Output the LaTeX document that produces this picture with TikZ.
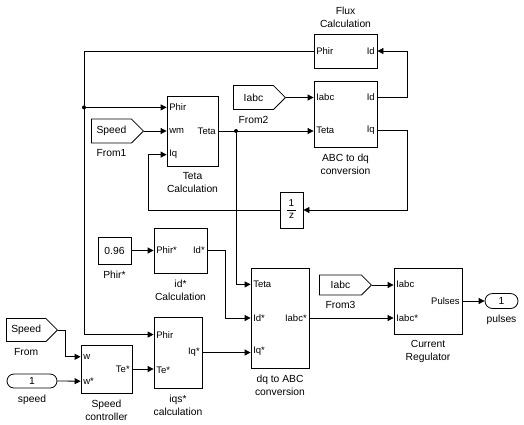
\documentclass[tikz,border=0pt]{standalone}
\usepackage{fontspec}
\setmainfont{Liberation Sans}
\usetikzlibrary{calc,shapes.symbols,shapes.misc,arrows.meta}

\tikzset{
  blk/.style={draw, line width=0.8pt, inner sep=0pt},
  lbl/.style={font=\fontsize{10.3}{13}\selectfont, align=center, inner sep=3pt, label distance=3pt},
  port/.style={font=\fontsize{9.5}{11}\selectfont, inner sep=1pt, label distance=1.5pt},
  wire/.style={line width=0.8pt},
  sig/.style={wire, -{Triangle[length=6pt,width=6pt]}},
  fromblk/.style={draw, line width=0.8pt, signal, signal to=east, inner sep=2pt,
    anchor=east, font=\fontsize{10.3}{12}\selectfont},
  ioblk/.style={draw, line width=0.8pt, rounded rectangle, inner sep=0pt,
    font=\fontsize{10.3}{12}\selectfont},
}
\newcommand{\inport}[4]{\coordinate[label={[port]0:#4}] (#3) at ($(#1.north west)!#2!(#1.south west)$);}
\newcommand{\outport}[4]{\coordinate[label={[port]180:#4}] (#3) at ($(#1.north east)!#2!(#1.south east)$);}

\begin{document}
\begin{tikzpicture}[x=1pt,y=-1pt]
            \useasboundingbox (0,0) rectangle (524,424);

            % blocks
            \node[blk, minimum width=63pt, minimum height=34pt, label={[lbl]above:{Flux\\Calculation}}] (flux) at (345.5,51) {};
            \node[blk, minimum width=51pt, minimum height=70pt, label={[lbl]below:{Teta\\Calculation}}] (teta) at (192.5,131) {};
            \node[blk, minimum width=63pt, minimum height=66pt, label={[lbl]below:{ABC to dq\\conversion}}] (abc) at (345.5,114) {};
            \node[blk, minimum width=23pt, minimum height=36pt, font=\fontsize{10}{12}\selectfont] (delay) at (291.5,210)
                {\begin{tabular}{@{\hspace{2pt}}c@{\hspace{2pt}}}1\\\hline z\end{tabular}};
            \node[blk, minimum width=33pt, minimum height=27pt, font=\fontsize{10.3}{12}\selectfont, label={[lbl]below:Phir*}] (const) at (114.5,250.5) {0.96};
            \node[blk, minimum width=53pt, minimum height=45pt, label={[lbl]below:{id*\\Calculation}}] (idc) at (180.5,250.5) {};
            \node[blk, minimum width=51pt, minimum height=48pt, label={[lbl]below:{Speed\\controller}}] (sc) at (106.5,369) {};
            \node[blk, minimum width=48pt, minimum height=71pt, label={[lbl]below:{iqs*\\calculation}}] (iqs) at (178,352.5) {};
            \node[blk, minimum width=58pt, minimum height=100pt, label={[lbl]below:{dq to ABC\\conversion}}] (dq) at (280,318) {};
            \node[blk, minimum width=68pt, minimum height=66pt, label={[lbl]below:{Current\\Regulator}}] (cr) at (428,301) {};

            % from tags and io ports
            \node[fromblk, minimum width=52pt, minimum height=24pt, label={[lbl]below:From1}] (from1) at (144,131) {Speed};
            \node[fromblk, minimum width=52pt, minimum height=24pt, label={[lbl]below:From2}] (from2) at (286,97.5) {Iabc};
            \node[fromblk, minimum width=51pt, minimum height=23pt, label={[lbl]below:From}] (from) at (58,330) {Speed};
            \node[fromblk, minimum width=52pt, minimum height=20pt, label={[lbl]below:From3}] (from3) at (372,285) {Iabc};
            \node[ioblk, minimum width=50pt, minimum height=14pt, label={[lbl]below:speed}] (speed) at (32,381) {1};
            \node[ioblk, minimum width=33pt, minimum height=15pt, label={[lbl]below:pulses}] (pulses) at (501.5,301) {1};

            % ports
            \coordinate[label={[port]0:Phir}] (flux-out) at (flux.west);
            \coordinate[label={[port]180:Id}] (flux-in) at (flux.east);
            \inport{teta}{1/6}{teta-in1}{Phir}
            \inport{teta}{1/2}{teta-in2}{wm}
            \inport{teta}{5/6}{teta-in3}{Iq}
            \outport{teta}{1/2}{teta-out}{Teta}
            \inport{abc}{1/4}{abc-in1}{Iabc}
            \inport{abc}{3/4}{abc-in2}{Teta}
            \outport{abc}{1/4}{abc-out1}{Id}
            \outport{abc}{3/4}{abc-out2}{Iq}
            \inport{idc}{1/2}{idc-in}{Phir*}
            \outport{idc}{1/2}{idc-out}{Id*}
            \inport{sc}{1/4}{sc-in1}{w}
            \inport{sc}{3/4}{sc-in2}{w*}
            \outport{sc}{1/2}{sc-out}{Te*}
            \inport{iqs}{1/4}{iqs-in1}{Phir}
            \inport{iqs}{3/4}{iqs-in2}{Te*}
            \outport{iqs}{1/2}{iqs-out}{Iq*}
            \inport{dq}{1/6}{dq-in1}{Teta}
            \inport{dq}{1/2}{dq-in2}{Id*}
            \inport{dq}{5/6}{dq-in3}{Iq*}
            \outport{dq}{1/2}{dq-out}{Iabc*}
            \inport{cr}{1/4}{cr-in1}{Iabc}
            \inport{cr}{3/4}{cr-in2}{Iabc*}
            \outport{cr}{1/2}{cr-out}{Pulses}

            % junctions
            \coordinate (jphi) at (84,0 |- teta-in1);
            \coordinate (jteta) at (236,0 |- teta-out);

            % signals
            \draw[wire] (flux-out) -| (jphi);
            \draw[sig] (jphi) -- (teta-in1);
            \draw[sig] (jphi) |- (iqs-in1);
            \draw[sig] (from1.east) -- (teta-in2);
            \draw[wire] (teta-out) -- (jteta);
            \draw[sig] (jteta) -- (jteta -| abc.west);
            \draw[sig] (jteta) |- (dq-in1);
            \draw[sig] (from2.east) -- (from2.east -| abc.west);
            \draw[sig] (abc-out1) -- ++(30,0) |- (flux-in);
            \draw[sig] (abc-out2) -- ++(30,0) |- (delay.east);
            \draw[sig] (delay.west) -| ($(teta-in3)+(-18,0)$) -- (teta-in3);
            \draw[sig] (const.east) -- (idc-in);
            \draw[sig] (idc-out) -- ++(18,0) |- (dq-in2);
            \draw[sig] (from.east) -- ++(7,0) |- (sc-in1);
            \draw[sig] (speed.east) -- (sc-in2);
            \draw[sig] (sc-out) -- (sc-out -| iqs.west);
            \draw[sig] (iqs-out) -- (iqs-out -| dq.west);
            \draw[sig] (dq-out) -- (dq-out -| cr.west);
            \draw[sig] (from3.east) -- (from3.east -| cr.west);
            \draw[sig] (cr-out) -- (pulses.west);
            \fill (jphi) circle (2pt);
            \fill (jteta) circle (2pt);
\end{tikzpicture}
\end{document}
